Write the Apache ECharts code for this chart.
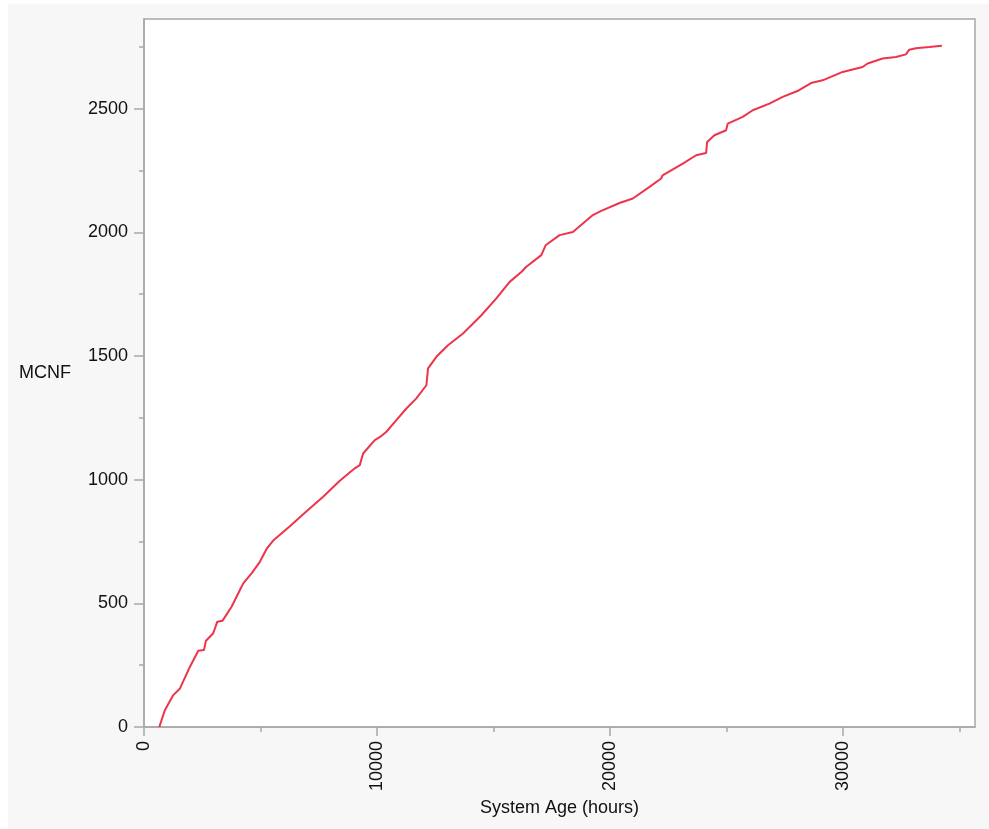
<!DOCTYPE html>
<html>
<head>
<meta charset="utf-8">
<title>MCNF vs System Age</title>
<script src="https://cdn.jsdelivr.net/npm/echarts@6/dist/echarts.min.js"></script>
<style>
  html, body { margin: 0; padding: 0; background: #ffffff; }
  #panel { position: absolute; left: 8px; top: 4px; right: 0; bottom: 0; background: #f7f7f7; }
  #chart { position: absolute; left: 0; top: 0; width: 989px; height: 829px; }
</style>
</head>
<body>
<div id="panel"></div>
<div id="chart"></div>
<script>
// Mean cumulative number of failures against system age
const systemAgeHours = [
  656, 900, 1257, 1544, 1973, 2330, 2573, 2659, 2973, 3145,
  3373, 3760, 4117, 4260, 4617, 4974, 5260, 5546, 6261, 6976,
  7690, 8405, 9048, 9262, 9405, 9906, 10148, 10405, 10834, 11262,
  11691, 12121, 12192, 12550, 13049, 13693, 14481, 15124, 15695, 16197,
  16411, 17054, 17238, 17839, 18409, 18838, 19267, 19627, 20412, 20983,
  21698, 22200, 22260, 23126, 23700, 24129, 24172, 24485, 24986, 25058,
  25700, 26129, 26844, 27415, 28101, 28632, 29130, 29988, 30845, 31060,
  31703, 32276, 32705, 32847, 33134, 33705, 34250
];
const mcnf = [
  0, 69, 129, 156, 244, 308, 311, 349, 379, 426,
  430, 486, 554, 581, 621, 668, 720, 754, 812, 872,
  931, 996, 1046, 1059, 1106, 1160, 1174, 1194, 1241, 1288,
  1329, 1382, 1450, 1497, 1544, 1591, 1665, 1733, 1800, 1840,
  1861, 1908, 1948, 1989, 2002, 2036, 2070, 2087, 2119, 2137,
  2184, 2218, 2231, 2278, 2312, 2321, 2366, 2393, 2413, 2440,
  2467, 2494, 2521, 2548, 2574, 2604, 2615, 2649, 2669, 2683,
  2703, 2709, 2720, 2739, 2745, 2750, 2755
];

// Axis ticks
const xMajorTicks = [0, 10000, 20000, 30000];
const xMinorTicks = [5000, 15000, 25000, 35000];
const yMajorTicks = [0, 500, 1000, 1500, 2000, 2500];
const yMinorTicks = [250, 750, 1250, 1750, 2250, 2750];

const X_MAX = 35670;
const Y_MAX = 2863;
const AXIS_GRAY = '#a8a8a8';
const FONT = '"Liberation Sans", Arial, Helvetica, sans-serif';
const TEXT = '#111111';
const plain = v => String(v);

const chart = echarts.init(document.getElementById('chart'), null, { renderer: 'canvas' });

const majorX = {
  type: 'value', min: 0, max: X_MAX, position: 'bottom',
  axisLine: { show: true, lineStyle: { color: AXIS_GRAY, width: 1.5 } },
  axisTick: { show: true, customValues: xMajorTicks, length: 9, lineStyle: { color: AXIS_GRAY, width: 1.5 } },
  axisLabel: { customValues: xMajorTicks, formatter: plain, rotate: 90, margin: 14, fontSize: 18, color: TEXT, fontFamily: FONT },
  splitLine: { show: false },
  name: 'System Age (hours)', nameLocation: 'middle', nameGap: 68,
  nameTextStyle: { fontSize: 18, color: TEXT, fontFamily: FONT }
};
const minorX = {
  type: 'value', min: 0, max: X_MAX, position: 'bottom',
  axisLine: { show: false },
  axisTick: { show: true, customValues: xMinorTicks, length: 5, lineStyle: { color: AXIS_GRAY, width: 1.5 } },
  axisLabel: { show: false },
  splitLine: { show: false }
};
const majorY = {
  type: 'value', min: 0, max: Y_MAX, position: 'left',
  axisLine: { show: true, lineStyle: { color: AXIS_GRAY, width: 1.5 } },
  axisTick: { show: true, customValues: yMajorTicks, length: 10, lineStyle: { color: AXIS_GRAY, width: 1.5 } },
  axisLabel: { customValues: yMajorTicks, formatter: plain, margin: 16, fontSize: 18, color: TEXT, fontFamily: FONT },
  splitLine: { show: false },
  name: 'MCNF', nameLocation: 'middle', nameRotate: 0, nameGap: 73,
  nameTextStyle: { fontSize: 18, color: TEXT, fontFamily: FONT, align: 'right', verticalAlign: 'middle' }
};
const minorY = {
  type: 'value', min: 0, max: Y_MAX, position: 'left',
  axisLine: { show: false },
  axisTick: { show: true, customValues: yMinorTicks, length: 5, lineStyle: { color: AXIS_GRAY, width: 1.5 } },
  axisLabel: { show: false },
  splitLine: { show: false }
};

chart.setOption({
  backgroundColor: 'transparent',
  animation: false,
  grid: {
    left: 144, top: 19, right: 14, bottom: 102,
    show: true, backgroundColor: '#ffffff', borderColor: AXIS_GRAY, borderWidth: 1.5
  },
  xAxis: [majorX, minorX],
  yAxis: [majorY, minorY],
  series: [{
    type: 'line',
    xAxisIndex: 0,
    yAxisIndex: 0,
    data: systemAgeHours.map((h, i) => [h, mcnf[i]]),
    showSymbol: false,
    lineStyle: { color: '#ee3448', width: 2 },
    silent: true
  }]
});
</script>
</body>
</html>
